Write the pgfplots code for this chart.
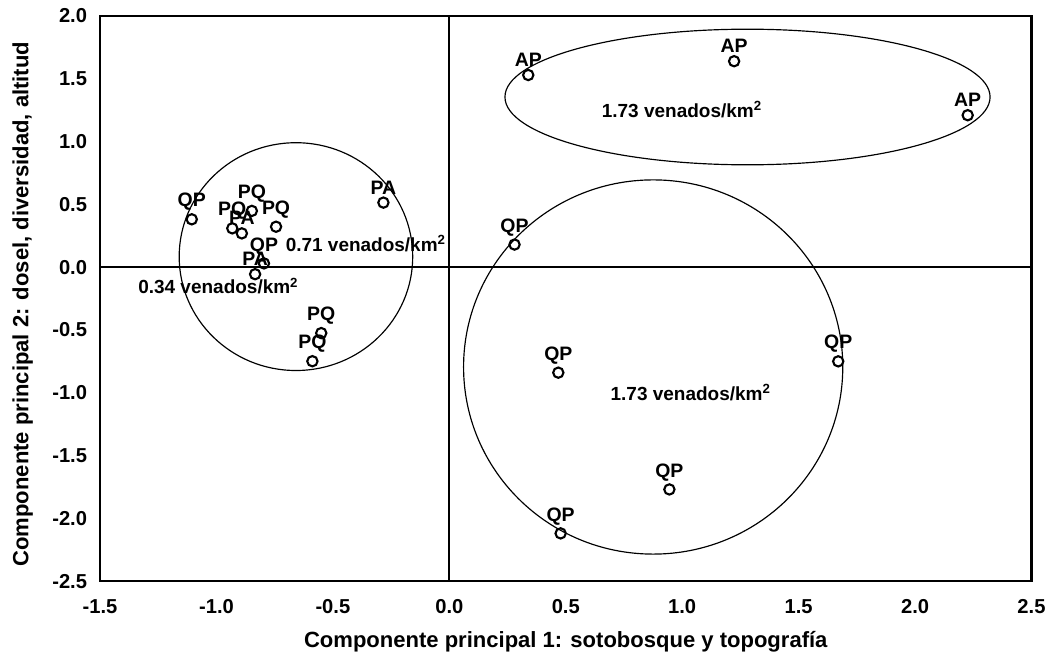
\documentclass[border=0pt]{standalone}
\usepackage{fontspec}
\setmainfont{Liberation Sans}
\usepackage{pgfplots}
\pgfplotsset{compat=1.18}
\pgfplotstableread{
x y lab
0.339 1.53 AP
1.223 1.64 AP
2.226 1.21 AP
0.280 0.18 QP
0.468 -0.84 QP
1.670 -0.75 QP
0.945 -1.77 QP
0.478 -2.12 QP
-1.106 0.381 QP
-0.848 0.448 PQ
-0.932 0.309 PQ
-0.891 0.269 PA
-0.744 0.322 PQ
-0.796 0.030 QP
-0.834 -0.056 PA
-0.283 0.514 PA
-0.550 -0.525 PQ
-0.588 -0.749 PQ
}\pts
\begin{document}
\begin{tikzpicture}
\begin{axis}[
  name=ax, scale only axis, width=13.97cm, height=8.475cm,
  xmin=-1.5, xmax=2.5, ymin=-2.5, ymax=2,
  xtick={-1.5,-1,-0.5,0,0.5,1,1.5,2,2.5},
  ytick={-2.5,-2,-1.5,-1,-0.5,0,0.5,1,1.5,2},
  major tick length=0pt,
  axis line style={line width=0.9pt},
  /pgf/number format/.cd, fixed, fixed zerofill, precision=1, assume math mode=true,
  /pgfplots/.cd,
  tick label style={font=\fontsize{8.6}{10}\selectfont\bfseries},
  xticklabel style={yshift=-4.2pt},
  yticklabel style={xshift=-2pt},
  xlabel={Componente principal 1: sotobosque y topografía},
  ylabel={Componente principal 2: dosel, diversidad, altitud},
  label style={font=\fontsize{9.4}{11}\selectfont\bfseries},
  xlabel style={at={(axis description cs:0.5,-0.108)}, anchor=center},
  ylabel style={at={(axis description cs:-0.083,0.49)}, anchor=center},
  clip=false,
]
\draw[line width=0.9pt] (axis cs:0,-2.5) -- (axis cs:0,2);
\draw[line width=0.9pt] (axis cs:-1.5,0) -- (axis cs:2.5,0);
\draw[line width=0.5pt] (axis cs:1.2805,1.355) ellipse [x radius=1.0416, y radius=0.54];
\draw[line width=0.5pt] (axis cs:0.8754,-0.795) ellipse [x radius=0.8142, y radius=1.49];
\draw[line width=0.5pt] (axis cs:-0.6586,0.084) ellipse [x radius=0.5014, y radius=0.907];
\addplot[only marks, mark=o, mark size=2.2pt, mark options={line width=0.9pt, black},
  nodes near coords, point meta=explicit symbolic,
  nodes near coords style={font=\fontsize{8.3}{9}\selectfont\bfseries, anchor=south, yshift=1.2pt, inner sep=2pt}]
  table[x=x, y=y, meta=lab] {\pts};
\node[font=\fontsize{8.1}{9}\selectfont\bfseries] at (axis cs:0.9996,1.255) {1.73 venados/km\textsuperscript{2}};
\node[font=\fontsize{8.1}{9}\selectfont\bfseries] at (axis cs:1.0373,-1.0) {1.73 venados/km\textsuperscript{2}};
\node[font=\fontsize{8.1}{9}\selectfont\bfseries] at (axis cs:-0.3578,0.19) {0.71 venados/km\textsuperscript{2}};
\node[font=\fontsize{8.1}{9}\selectfont\bfseries] at (axis cs:-0.991,-0.15) {0.34 venados/km\textsuperscript{2}};
\end{axis}
\pgfresetboundingbox
\path[use as bounding box] ([xshift=-1.5cm,yshift=-1.125cm]ax.south west) rectangle ([xshift=0.2775cm,yshift=0.24cm]ax.north east);
\end{tikzpicture}
\end{document}
